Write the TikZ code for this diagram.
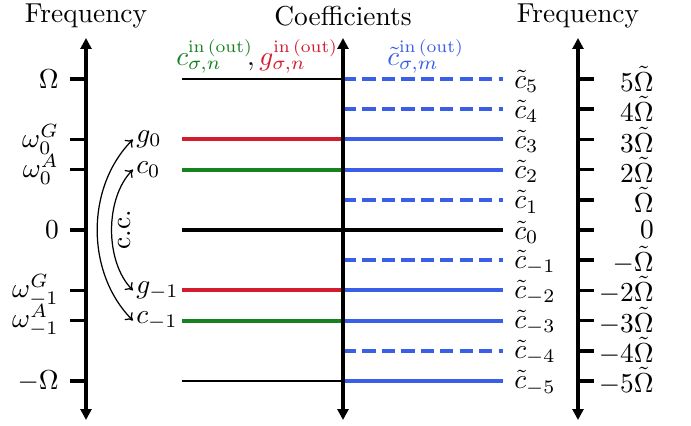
\documentclass[tikz,border=0pt]{standalone}
\usetikzlibrary{arrows.meta}
\definecolor{myred}{RGB}{212,28,48}
\definecolor{mygreen}{RGB}{22,130,32}
\definecolor{myblue}{RGB}{58,94,232}
\newcommand{\inout}{\scalebox{0.9}{$\scriptstyle\mathrm{in\,(out)}$}}
\tikzset{
  axis/.style={line width=1.5pt,{Triangle[length=4pt,width=4pt]}-{Triangle[length=4pt,width=4pt]}},
  tick/.style={line width=1.3pt},
  lev/.style={line width=1.5pt},
  thinlev/.style={line width=0.55pt},
  dlev/.style={line width=1.5pt,dash pattern=on 4.8pt off 2.3pt},
  lbl/.style={inner sep=1pt},
  ccarrow/.style={line width=0.45pt,<->,>={To[length=2.5pt,width=4pt]}}
}
\begin{document}
\begin{tikzpicture}[x=0.365pt,y=-0.365pt]
\useasboundingbox (0,0) rectangle (691,426);
% titles
\node[lbl] (t1) at (86,16) {Frequency};
\node[lbl] (t2) at (343,16) {Coefficients};
\node[lbl] (t3) at (578,16) {Frequency};
% header labels
\node[lbl,anchor=base west] (hdr) at (173,66) {$\color{mygreen}c^{\inout}_{\sigma,n}\mkern-4mu\color{black},\color{myred}g^{\inout}_{\sigma,n}$};
\node[lbl,anchor=base west] (hdrb) at (384,66) {$\color{myblue}\tilde c^{\inout}_{\sigma,m}$};
% left side lines
\draw[thinlev] (182,79) -- (343,79);
\draw[thinlev] (182,381) -- (343,381);
\draw[lev,myred] (182,139.4) -- (343,139.4);
\draw[lev,mygreen] (182,169.6) -- (343,169.6);
\draw[lev,myred] (182,290.4) -- (343,290.4);
\draw[lev,mygreen] (182,320.6) -- (343,320.6);
\draw[lev,black] (182,230) -- (503,230);
% right side blue lines
\foreach \k in {5,4,1,-1,-4}{
  \draw[dlev,myblue] (343,{230-30.2*\k}) -- (503,{230-30.2*\k});
}
\foreach \k in {3,2,-2,-3,-5}{
  \draw[lev,myblue] (343,{230-30.2*\k}) -- (503,{230-30.2*\k});
}
% axes
\coordinate (a1t) at (86,38); \coordinate (a1b) at (86,420);
\coordinate (a2t) at (343,38); \coordinate (a2b) at (343,420);
\coordinate (a3t) at (578,38); \coordinate (a3b) at (578,420);
\draw[axis] (a1b) -- (a1t);
\draw[axis] (a2b) -- (a2t);
\draw[axis] (a3b) -- (a3t);
% left ticks and labels
\foreach \k/\t in {5/{$\Omega$},3/{$\omega_0^G$},2/{$\omega_0^A$},0/{$0$},-2/{$\omega_{-1}^G$},-3/{$\omega_{-1}^A$},-5/{$-\Omega$}}{
  \draw[tick] (70,{230-30.2*\k}) -- (86,{230-30.2*\k});
  \node[lbl,anchor=east] at (62,{230-30.2*\k}) {\t};
}
% right ticks and labels
\foreach \k/\t in {5/{$5\tilde\Omega$},4/{$4\tilde\Omega$},3/{$3\tilde\Omega$},2/{$2\tilde\Omega$},1/{$\tilde\Omega$},0/{$0$},-1/{$-\tilde\Omega$},-2/{$-2\tilde\Omega$},-3/{$-3\tilde\Omega$},-4/{$-4\tilde\Omega$},-5/{$-5\tilde\Omega$}}{
  \draw[tick] (578,{230-30.2*\k}) -- (594,{230-30.2*\k});
  \node[lbl,anchor=east] at (657,{230-30.2*\k}) {\t};
}
% c tilde labels
\foreach \k in {5,4,3,2,1,0,-1,-2,-3,-4,-5}{
  \node[lbl,anchor=west] at (511,{232-30.2*\k}) {$\tilde c_{\k}$};
}
% left labels g0, c0
\node[lbl,anchor=west] (g0) at (133,139.4) {$g_0$};
\node[lbl,anchor=west] (c0) at (133,169.6) {$c_0$};
\node[lbl,anchor=west] (gm1) at (133,290.4) {$g_{-1}$};
\node[lbl,anchor=west] (cm1) at (133,320.6) {$c_{-1}$};
\draw[ccarrow] (g0.west) to[out=225,in=135,looseness=0.95] (cm1.west);
\draw[ccarrow] (c0.west) to[out=225,in=135,looseness=0.85] (gm1.west);
\node[lbl,rotate=90] (cc) at (125,230) {c.c.};
\end{tikzpicture}
\end{document}
